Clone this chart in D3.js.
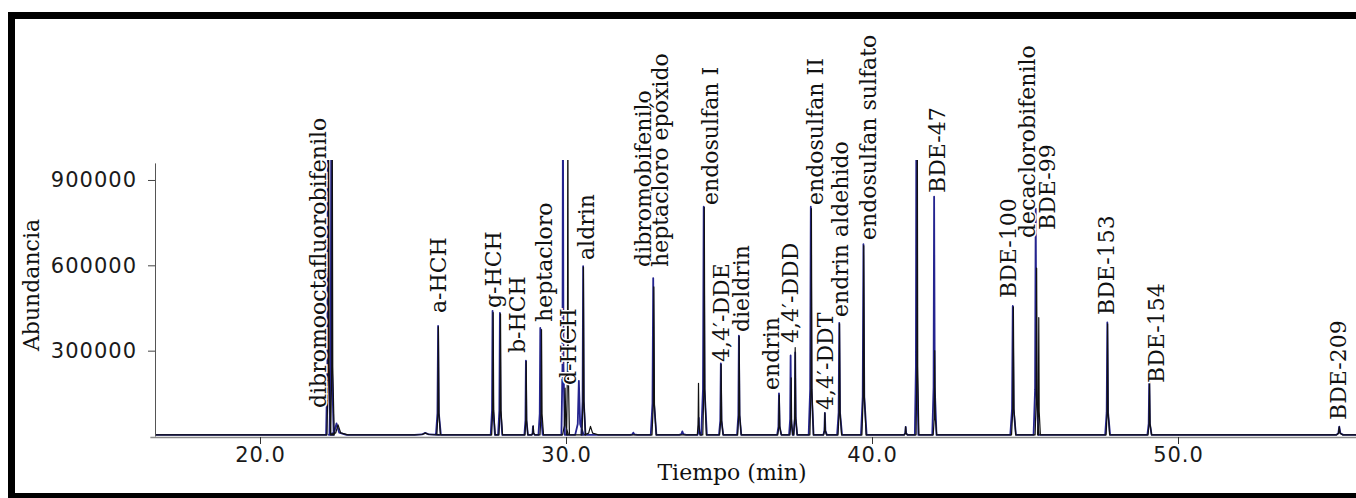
<!DOCTYPE html>
<html>
<head>
<meta charset="utf-8">
<script src="https://cdn.jsdelivr.net/npm/d3@7"></script>
<style>
body { margin: 0; background: #fff; }
svg { display: block; }
</style>
</head>
<body>
<script>
var width = 1356;
var height = 498;

// peaks: retention time (min), abundance, base half width (min)
var bluePeakTimes = [22.22, 22.33, 22.5, 25.4, 25.82, 27.6, 27.84, 28.69, 28.92, 29.16, 29.9, 30.42, 30.56, 32.2, 32.85, 33.8, 34.34, 34.5, 35.06, 35.65, 36.96, 37.34, 37.49, 38.0, 38.46, 38.93, 39.72, 41.1, 41.45, 42.03, 44.6, 45.35, 47.69, 49.06, 55.27];
var bluePeakHeights = [1200000, 1200000, 40000, 7000, 383000, 436000, 429000, 261000, 30000, 376000, 1200000, 190000, 593000, 8000, 551000, 12000, 60000, 802000, 251000, 349000, 146000, 279000, 290000, 802000, 77000, 394000, 670000, 28000, 1200000, 837000, 453000, 795000, 395000, 199000, 29000];
var bluePeakWidths = [0.06, 0.06, 0.25, 0.35, 0.07, 0.06, 0.06, 0.05, 0.04, 0.06, 0.05, 0.12, 0.06, 0.1, 0.08, 0.1, 0.04, 0.08, 0.06, 0.06, 0.06, 0.05, 0.05, 0.07, 0.05, 0.07, 0.08, 0.05, 0.05, 0.06, 0.08, 0.07, 0.07, 0.06, 0.1];

var blackPeakTimes = [22.24, 22.36, 22.55, 25.4, 25.83, 27.62, 27.86, 28.7, 28.93, 29.2, 29.97, 30.06, 30.57, 30.8, 32.87, 34.33, 34.52, 35.07, 35.66, 36.97, 37.36, 37.49, 38.02, 38.46, 38.94, 39.73, 41.1, 41.48, 42.05, 44.62, 45.38, 45.45, 47.7, 49.07, 55.27];
var blackPeakHeights = [1200000, 1200000, 35000, 6000, 380000, 430000, 425000, 258000, 32000, 370000, 164000, 1200000, 590000, 30000, 520000, 181000, 800000, 248000, 345000, 140000, 200000, 307000, 795000, 77000, 390000, 665000, 28000, 1200000, 296000, 450000, 586000, 412000, 390000, 195000, 28000];
var blackPeakWidths = [0.05, 0.05, 0.25, 0.35, 0.05, 0.05, 0.05, 0.04, 0.04, 0.05, 0.08, 0.04, 0.05, 0.2, 0.06, 0.04, 0.05, 0.05, 0.05, 0.05, 0.04, 0.05, 0.05, 0.04, 0.05, 0.06, 0.04, 0.04, 0.05, 0.06, 0.05, 0.04, 0.05, 0.05, 0.08];

var labelNames = ['dibromooctafluorobifenilo', 'a-HCH', 'g-HCH', 'b-HCH', 'heptacloro', 'd-HCH', 'aldrin', 'dibromobifenilo', 'heptacloro epóxido', 'endosulfan I', '4,4\u2032-DDE', 'dieldrin', 'endrin', '4,4\u2032-DDD', 'endosulfan II', '4,4\u2032-DDT', 'endrin aldehido', 'endosulfan sulfato', 'BDE-47', 'BDE-100', 'decaclorobifenilo', 'BDE-99', 'BDE-153', 'BDE-154', 'BDE-209'];
var labelTimes = [21.90, 25.82, 27.61, 28.40, 29.28, 30.07, 30.65, 32.52, 33.07, 34.71, 35.07, 35.72, 36.70, 37.32, 38.14, 38.46, 38.95, 39.87, 42.12, 44.44, 45.07, 45.72, 47.65, 49.28, 55.23];
var labelLevels = [98400, 432400, 450000, 291800, 400800, 179300, 618700, 594100, 594100, 812100, 260200, 365600, 161700, 327000, 812100, 91400, 418400, 689000, 854300, 485200, 696100, 724200, 425400, 186300, 56200];

var xMajorTicks = [20, 30, 40, 50];
var yMajorTicks = [300000, 600000, 900000];

var baseline = 4000;
var tStart = 16.6;
var tEnd = 56;

var x = d3.scaleLinear().domain([16.4, 56]).range([149.84, 1361.6]);
var y = d3.scaleLinear().domain([0, 960000]).range([436, 162.9]);

function buildTrace(times, heights, widths) {
  var pts = [[tStart, baseline]];
  times.forEach(function (t, i) {
    var h = heights[i], w = widths[i];
    pts.push([t - w, baseline]);
    pts.push([t - w * 0.3, baseline + h * 0.2]);
    pts.push([t, baseline + h]);
    pts.push([t + w * 0.35, baseline + h * 0.2]);
    pts.push([t + w * 1.3, baseline]);
  });
  pts.push([tEnd, baseline]);
  return pts;
}

var svg = d3.select('body').append('svg')
  .attr('width', width)
  .attr('height', height);

svg.append('rect').attr('width', width).attr('height', height).attr('fill', '#fff');

svg.append('clipPath').attr('id', 'plot-clip')
  .append('rect')
  .attr('x', x(tStart))
  .attr('y', y(960000) - 3)
  .attr('width', width)
  .attr('height', height);

// x axis
var gx = svg.append('g').attr('transform', 'translate(0,' + (y(0) + 1) + ')');
gx.call(d3.axisBottom(x).tickValues(d3.range(18, 56, 2)).tickSize(5).tickSizeOuter(0).tickFormat(''));
gx.call(d3.axisBottom(x).tickValues(xMajorTicks).tickSize(7).tickSizeOuter(0).tickPadding(3).tickFormat(d3.format('.1f')));
gx.selectAll('.domain').attr('stroke', '#8c8c8c').attr('stroke-width', 1.5);
gx.selectAll('.tick line').attr('stroke', '#333');
gx.selectAll('text')
  .attr('fill', '#1a1a1a')
  .style('font-family', '"DejaVu Sans", Verdana, sans-serif')
  .style('font-size', '21px')
  .style('letter-spacing', '1px');

// y axis
var gy = svg.append('g').attr('transform', 'translate(155,0)');
gy.call(d3.axisLeft(y).tickValues(d3.range(0, 960001, 25000)).tickSize(3).tickSizeOuter(0).tickFormat(''));
gy.call(d3.axisLeft(y).tickValues(yMajorTicks).tickSize(7).tickSizeOuter(0).tickPadding(11).tickFormat(d3.format('d')));
gy.selectAll('.domain').attr('stroke', '#555');
gy.selectAll('.tick line').attr('stroke', '#444');
gy.selectAll('text')
  .attr('fill', '#1a1a1a')
  .style('font-family', '"DejaVu Sans", Verdana, sans-serif')
  .style('font-size', '21px')
  .style('letter-spacing', '1px');

var line = d3.line()
  .x(function (d) { return x(d[0]); })
  .y(function (d) { return y(d[1]); });

var traces = svg.append('g').attr('clip-path', 'url(#plot-clip)');

traces.append('path')
  .datum(buildTrace(bluePeakTimes, bluePeakHeights, bluePeakWidths))
  .attr('d', line)
  .attr('fill', 'none')
  .attr('stroke', '#24248f')
  .attr('stroke-width', 1.8)
  .attr('stroke-linejoin', 'round');

traces.append('path')
  .datum(buildTrace(blackPeakTimes, blackPeakHeights, blackPeakWidths))
  .attr('d', line)
  .attr('fill', 'none')
  .attr('stroke', '#111')
  .attr('stroke-width', 1.2)
  .attr('stroke-linejoin', 'round');

// peak names, with a white halo so they sit over the trace
svg.append('g')
  .selectAll('text')
  .data(labelNames)
  .enter().append('text')
  .attr('transform', function (d, i) {
    return 'translate(' + x(labelTimes[i]) + ',' + y(labelLevels[i]) + ') rotate(-90)';
  })
  .attr('dy', '0.35em')
  .attr('fill', '#111')
  .attr('stroke', '#fff')
  .attr('stroke-width', 3)
  .attr('paint-order', 'stroke')
  .style('font-family', '"DejaVu Serif", serif')
  .style('font-size', '22px')
  .text(function (d) { return d; });

svg.append('text')
  .attr('transform', 'translate(31,285) rotate(-90)')
  .attr('text-anchor', 'middle')
  .attr('dy', '0.35em')
  .attr('fill', '#111')
  .style('font-family', '"DejaVu Serif", serif')
  .style('font-size', '22px')
  .text('Abundancia');

svg.append('text')
  .attr('x', 732)
  .attr('y', 480)
  .attr('text-anchor', 'middle')
  .attr('fill', '#111')
  .style('font-family', '"DejaVu Serif", serif')
  .style('font-size', '22px')
  .text('Tiempo (min)');

// frame
svg.append('rect')
  .attr('x', 11.5)
  .attr('y', 15.5)
  .attr('width', width + 20)
  .attr('height', 481)
  .attr('fill', 'none')
  .attr('stroke', '#000')
  .attr('stroke-width', 7);
</script>
</body>
</html>
